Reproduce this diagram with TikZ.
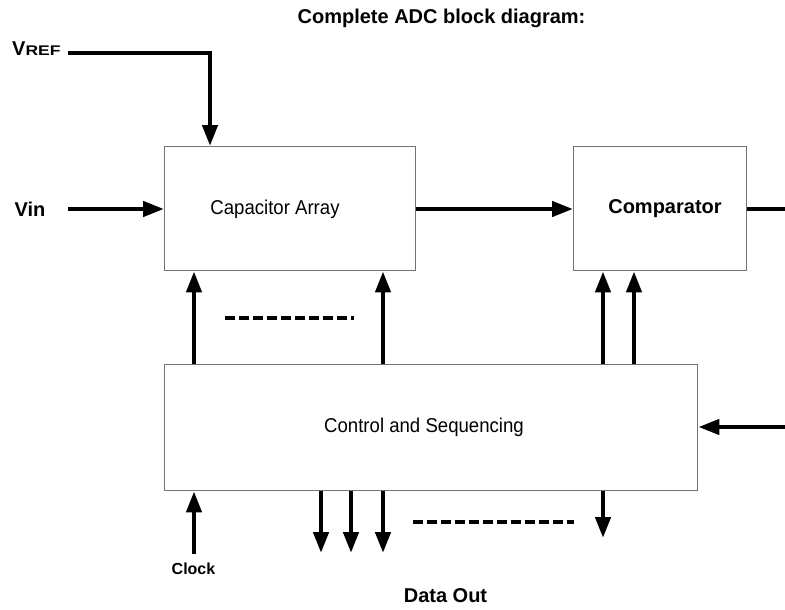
\documentclass[tikz,border=0pt]{standalone}
\usepackage{fontspec}
\setmainfont{Liberation Sans}
\usetikzlibrary{arrows.meta}
\begin{document}
\begin{tikzpicture}[x=1pt,y=-1pt,
  blk/.style={draw=black!55,line width=1.4pt,inner sep=0pt,anchor=north west},
  wire/.style={line width=4.4pt},
  arr/.style={wire,-{Triangle[length=21pt,width=15pt]}},
  dots/.style={line width=4pt,dash pattern=on 9.5pt off 4.5pt},
  lbl/.style={inner sep=0pt,font=\fontsize{20}{24}\selectfont\bfseries},
  inlbl/.style={inner sep=0pt,font=\fontsize{20}{24}\selectfont\addfontfeature{FakeStretch=0.93}}]
\useasboundingbox (0,0) rectangle (785,610);
% blocks
\node[blk,minimum width=251pt,minimum height=124pt] (cap) at (164,146) {};
\node[blk,minimum width=173pt,minimum height=124pt] (cmp) at (573,146) {};
\node[blk,minimum width=533pt,minimum height=126pt] (ctl) at (164,364) {};
% labels
\node[lbl] (title) at (441.5,18) {Complete ADC block diagram:};
\node[inlbl] (captxt) at (275,209) {Capacitor Array};
\node[lbl] (cmptxt) at (665,209) {Comparator};
\node[inlbl] (ctltxt) at (424,427) {Control and Sequencing};
\node[lbl,anchor=west] (vref) at (12,49) {V\fontsize{14}{17}\selectfont\addfontfeature{FakeStretch=1.25}REF};
\node[lbl] (vin) at (30,209) {Vin};
\node[inlbl,font=\fontsize{16}{19}\selectfont\bfseries] (clock) at (193.5,569) {Clock};
\node[lbl] (dout) at (445.5,596) {Data Out};
% free-end coordinates
\coordinate (vrefend) at (68,53);
\coordinate (vinend) at (68,209);
\coordinate (outend) at (785,209);
\coordinate (fbend) at (785,427);
\coordinate (clkend) at (194,554);
\coordinate (d1) at (321,553);
\coordinate (d2) at (351,553);
\coordinate (d3) at (383,553);
\coordinate (d4) at (603,538);
\coordinate (u1) at (194,0);
\coordinate (u2) at (383,0);
\coordinate (u3) at (603,0);
\coordinate (u4) at (634,0);
\coordinate (vrefx) at (210,0);
\coordinate (ds1a) at (225,318);
\coordinate (ds1b) at (354,318);
\coordinate (ds2a) at (413,522);
\coordinate (ds2b) at (574,522);
% connectors
\draw[arr] (vrefend) -| (cap.north -| vrefx);
\draw[arr] (vinend) -- (cap.west |- vinend);
\draw[arr] (cap.east |- vinend) -- (cmp.west |- vinend);
\draw[wire] (cmp.east |- outend) -- (outend);
\draw[arr] (fbend) -- (ctl.east |- fbend);
\draw[arr] (ctl.north -| u1) -- (cap.south -| u1);
\draw[arr] (ctl.north -| u2) -- (cap.south -| u2);
\draw[arr] (ctl.north -| u3) -- (cmp.south -| u3);
\draw[arr] (ctl.north -| u4) -- (cmp.south -| u4);
\draw[arr] (clkend) -- (ctl.south -| clkend);
\draw[arr] (ctl.south -| d1) -- (d1);
\draw[arr] (ctl.south -| d2) -- (d2);
\draw[arr] (ctl.south -| d3) -- (d3);
\draw[arr] (ctl.south -| d4) -- (d4);
\draw[dots] (ds1a) -- (ds1b);
\draw[dots] (ds2a) -- (ds2b);
\end{tikzpicture}
\end{document}
